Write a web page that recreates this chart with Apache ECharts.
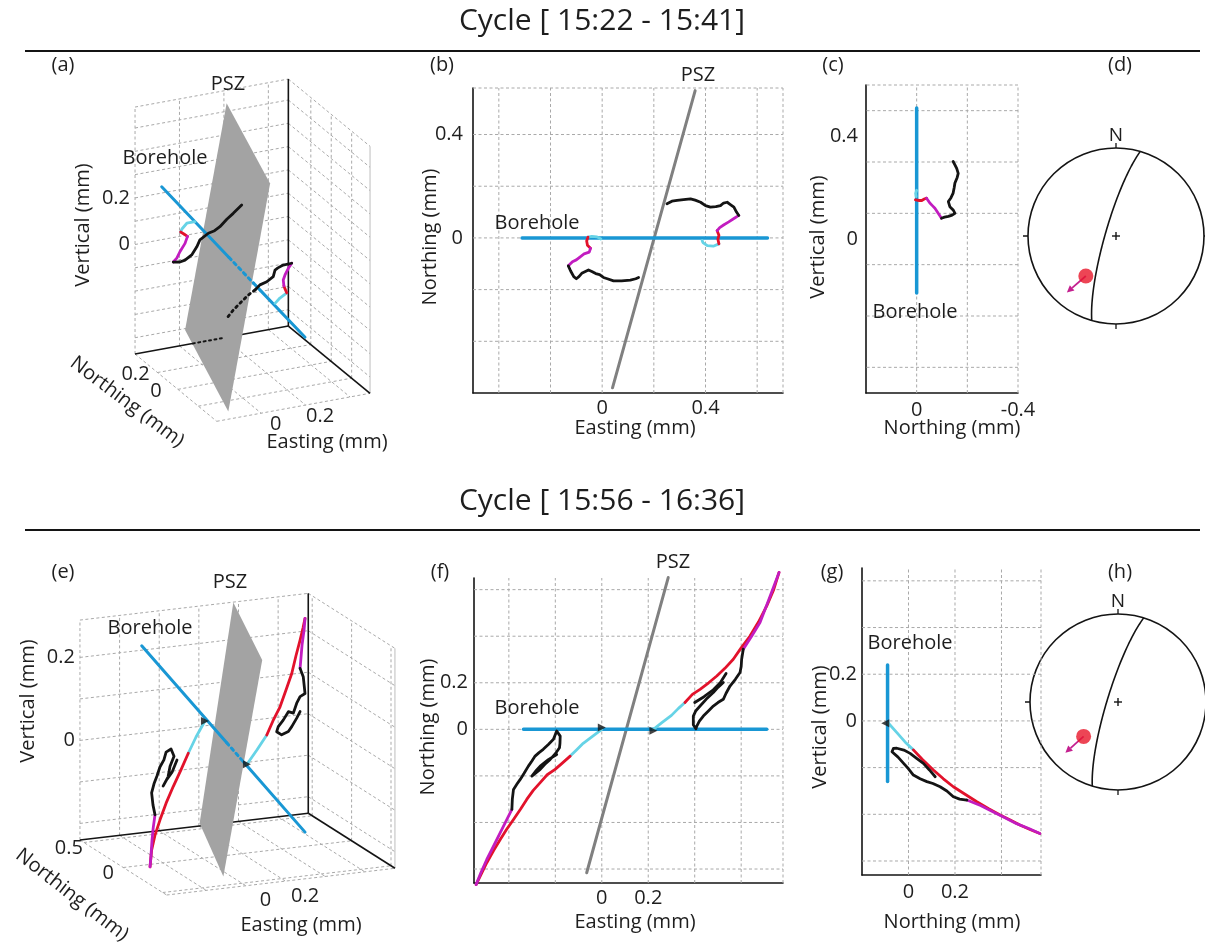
<!DOCTYPE html>
<html>
<head>
<meta charset="utf-8">
<title>Displacement cycles</title>
<script src="https://cdn.jsdelivr.net/npm/echarts@6.0.0/dist/echarts.min.js"></script>
<style>
html, body { margin: 0; padding: 0; background: #ffffff; }
#chart { width: 1205px; height: 943px; }
</style>
</head>
<body>
<div id="chart"></div>
<script>
// ================= data =================
const titles = ['Cycle [ 15:22 - 15:41]', 'Cycle [ 15:56 - 16:36]'];

// ---- (a) 3-D view, cycle 1 : [Easting, Northing, Vertical] in mm ----
const boxA = { E: [-0.4, 0.29], N: [-0.38, 0.42], Z: [-0.47, 0.59] };
const gridA = { E: [-0.2, 0, 0.2], N: [0.2, 0, -0.2], Z: [-0.4, -0.3, -0.2, -0.1, 0, 0.1, 0.2, 0.3, 0.4, 0.5] };
const labelsA = { E: [0, 0.2], N: [0.2, 0], Z: [0, 0.2] };
const aBorehole = [[-0.473, 0, 0.412], [0.172, 0, -0.346]];
const aBoreholeHidden = [-0.17, -0.06];
const aFloorHidden = [-0.14, 0.0];
const aPlane = [[0.049, 0.5, 0.499], [-0.146, -0.35, 0.496], [-0.334, -0.35, -0.45], [-0.138, 0.5, -0.441]];
const aCyan1 = [[-0.323, 0, 0.236], [-0.36, 0, 0.236], [-0.382, 0, 0.215], [-0.388, 0, 0.203]];
const aRed1 = [[-0.388, 0, 0.203], [-0.373, 0, 0.192], [-0.357, 0, 0.179]];
const aMag1 = [[-0.357, 0, 0.179], [-0.368, 0, 0.151], [-0.391, 0, 0.119], [-0.405, 0, 0.094], [-0.421, 0, 0.08]];
const aBlack1 = [[-0.421, 0, 0.08], [-0.391, 0, 0.075], [-0.368, 0, 0.079], [-0.338, 0, 0.096], [-0.315, 0, 0.127], [-0.301, 0, 0.154], [-0.263, 0, 0.176], [-0.235, 0, 0.182], [-0.211, 0, 0.195], [-0.18, 0, 0.222], [-0.151, 0, 0.242], [-0.113, 0, 0.271]];
const aCyan2 = [[0.037, 0, -0.177], [0.059, 0, -0.158], [0.09, 0, -0.141]];
const aRed2 = [[0.09, 0, -0.141], [0.097, 0, -0.134], [0.082, 0, -0.123], [0.077, 0, -0.109]];
const aMag2 = [[0.077, 0, -0.109], [0.074, 0, -0.083], [0.082, 0, -0.063], [0.097, 0, -0.037], [0.112, 0, -0.018]];
const aBlack2 = [[0.112, 0, -0.018], [0.074, 0, -0.019], [0.05, 0, -0.027], [0.037, 0, -0.034], [0.029, 0, -0.061], [0.0, 0, -0.078], [-0.031, 0, -0.086], [-0.053, 0, -0.104]];
const aBlack2Hidden = [[-0.053, 0, -0.104], [-0.083, 0, -0.12], [-0.121, 0, -0.149], [-0.151, 0, -0.173], [-0.18, 0, -0.203]];

// ---- (b) map view, cycle 1 : [Easting, Northing] ----
const bGridE = [-0.4, -0.2, 0, 0.2, 0.4, 0.6, 0.7];
const bGridN = [-0.4, -0.2, 0, 0.2, 0.4, 0.58];
const bLabelsE = [0, 0.4];
const bLabelsN = [0, 0.4];
const bBorehole = [[-0.31, 0], [0.64, 0]];
const bPSZ = [[0.04, -0.58], [0.36, 0.57]];
const bCyanL = [[-0.005, -0.004], [-0.02, 0.004], [-0.04, 0.006], [-0.055, 0.003]];
const bRedL = [[-0.055, 0.003], [-0.06, -0.012], [-0.057, -0.028], [-0.045, -0.04]];
const bMagL = [[-0.045, -0.04], [-0.05, -0.055], [-0.07, -0.062], [-0.085, -0.073], [-0.1, -0.085], [-0.115, -0.092], [-0.131, -0.108]];
const bBlackL = [[-0.131, -0.108], [-0.122, -0.128], [-0.11, -0.15], [-0.1, -0.158], [-0.09, -0.15], [-0.079, -0.137], [-0.065, -0.13], [-0.053, -0.124], [-0.04, -0.13], [-0.025, -0.138], [-0.01, -0.142], [0.005, -0.153], [0.02, -0.158], [0.044, -0.166], [0.075, -0.166], [0.109, -0.163], [0.13, -0.158], [0.141, -0.153]];
const bCyanR = [[0.452, -0.023], [0.43, -0.032], [0.407, -0.03], [0.39, -0.018], [0.387, -0.01]];
const bRedR = [[0.445, 0.028], [0.452, 0.01], [0.448, -0.005], [0.452, -0.023]];
const bMagR = [[0.529, 0.087], [0.51, 0.075], [0.49, 0.062], [0.47, 0.05], [0.455, 0.04], [0.445, 0.028]];
const bBlackR = [[0.251, 0.132], [0.27, 0.142], [0.29, 0.145], [0.315, 0.148], [0.342, 0.151], [0.36, 0.146], [0.381, 0.138], [0.4, 0.125], [0.419, 0.119], [0.44, 0.121], [0.458, 0.125], [0.47, 0.135], [0.484, 0.138], [0.495, 0.13], [0.51, 0.119], [0.52, 0.1], [0.529, 0.087]];

// ---- (c) section view, cycle 1 : [Northing, Vertical] ----
const cGridN = [0, -0.2, -0.4];
const cGridZ = [-0.5, -0.3, -0.1, 0.1, 0.3, 0.5, 0.6];
const cLabelsN = [0, -0.4];
const cLabelsZ = [0, 0.4];
const cBorehole = [[0, 0.51], [0, -0.21]];
const cCyan = [[0, 0.19], [0.004, 0.178], [0.002, 0.165]];
const cRed = [[0.005, 0.152], [-0.01, 0.15], [-0.02, 0.15], [-0.03, 0.156], [-0.039, 0.159]];
const cMag = [[-0.039, 0.159], [-0.052, 0.14], [-0.062, 0.13], [-0.072, 0.12], [-0.085, 0.1], [-0.098, 0.081]];
const cBlack = [[-0.098, 0.081], [-0.11, 0.085], [-0.125, 0.088], [-0.14, 0.093], [-0.151, 0.1], [-0.145, 0.112], [-0.131, 0.126], [-0.125, 0.146], [-0.135, 0.16], [-0.144, 0.179], [-0.148, 0.2], [-0.151, 0.218], [-0.16, 0.24], [-0.164, 0.256], [-0.158, 0.275], [-0.151, 0.289], [-0.144, 0.302]];

// ---- (d) stereonet, cycle 1 ----
const dPlane = { strike: 196, dip: 80 };
const dLineation = { trend: 217, plunge: 42.5 };
const dArrowTip = { trend: 221, plunge: 16 };

// ---- (e) 3-D view, cycle 2 ----
const boxE = { E: [-0.6, 0.552], N: [-0.55, 0.55], Z: [-0.24, 0.29] };
const gridE3 = { E: [-0.4, -0.2, 0, 0.2, 0.4], N: [0.5, 0, -0.5], Z: [-0.2, -0.1, 0, 0.1, 0.2] };
const labelsE3 = { E: [0, 0.2], N: [0.5, 0], Z: [0, 0.2] };
const eBorehole = [[-0.507, 0, 0.289], [0.317, 0, -0.206]];
const eBoreholeHidden = [-0.078, 0.006];
const ePlane = [[0.154, 0.5, 0.296], [-0.058, -0.4, 0.278], [-0.254, -0.4, -0.233], [-0.016, 0.5, -0.226]];
const eCyan1 = [[-0.188, 0, 0.09], [-0.233, 0, 0.054], [-0.272, 0, 0.017]];
const eRed1 = [[-0.272, 0, 0.017], [-0.309, 0, -0.021], [-0.348, 0, -0.059], [-0.384, 0, -0.097], [-0.415, 0, -0.136], [-0.44, 0, -0.171], [-0.457, 0, -0.206], [-0.465, 0, -0.246]];
const eMag1 = [[-0.465, 0, -0.246], [-0.46, 0, -0.218], [-0.455, 0, -0.182], [-0.449, 0, -0.153], [-0.44, 0, -0.122]];
const eBlack1 = [[-0.44, 0, -0.122], [-0.45, 0, -0.098], [-0.457, 0, -0.068], [-0.445, 0, -0.047], [-0.43, 0, -0.029], [-0.415, 0, -0.008], [-0.395, 0, 0.008], [-0.384, 0, 0.026], [-0.359, 0, 0.032], [-0.344, 0, 0.014], [-0.364, 0, -0.009], [-0.374, 0, -0.034], [-0.399, 0, -0.055], [-0.38, 0, -0.04], [-0.354, 0, -0.024], [-0.329, 0, 0.004]];
const eCyan2 = [[0.024, 0, -0.026], [0.075, 0, 0.006], [0.124, 0, 0.039]];
const eRed2 = [[0.124, 0, 0.039], [0.155, 0, 0.071], [0.191, 0, 0.103], [0.221, 0, 0.142], [0.25, 0, 0.18], [0.271, 0, 0.221], [0.292, 0, 0.258], [0.307, 0, 0.287], [0.317, 0, 0.309]];
const eMag2 = [[0.317, 0, 0.309], [0.312, 0, 0.281], [0.302, 0, 0.246], [0.292, 0, 0.19]];
const eBlack2 = [[0.292, 0, 0.19], [0.308, 0, 0.169], [0.317, 0, 0.128], [0.292, 0, 0.122], [0.275, 0, 0.107], [0.258, 0, 0.084], [0.233, 0, 0.089], [0.207, 0, 0.07], [0.182, 0, 0.056], [0.174, 0, 0.044], [0.199, 0, 0.035], [0.233, 0, 0.041], [0.25, 0, 0.052], [0.275, 0, 0.071], [0.292, 0, 0.086]];
const eMarkers = [[-0.188, 0, 0.09], [0.024, 0, -0.026]];

// ---- (f) map view, cycle 2 ----
const fGridE = [-0.4, -0.2, 0, 0.2, 0.4, 0.6, 0.78];
const fGridN = [-0.6, -0.4, -0.2, 0, 0.2, 0.4, 0.6];
const fLabelsE = [0, 0.2];
const fLabelsN = [0, 0.2];
const fBorehole = [[-0.337, 0], [0.71, 0]];
const fPSZ = [[-0.065, -0.616], [0.286, 0.652]];
const fCyanL = [[0, 0], [-0.04, -0.03], [-0.08, -0.06], [-0.11, -0.09], [-0.136, -0.115]];
const fRedL = [[-0.136, -0.115], [-0.17, -0.145], [-0.201, -0.172], [-0.235, -0.195], [-0.265, -0.229], [-0.295, -0.262], [-0.323, -0.301], [-0.35, -0.343], [-0.38, -0.387], [-0.41, -0.43], [-0.437, -0.473], [-0.465, -0.52], [-0.495, -0.573], [-0.541, -0.667]];
const fMagL = [[-0.541, -0.667], [-0.52, -0.615], [-0.495, -0.559], [-0.465, -0.5], [-0.437, -0.444], [-0.41, -0.39], [-0.387, -0.344]];
const fBlackL = [[-0.387, -0.344], [-0.385, -0.3], [-0.38, -0.258], [-0.365, -0.235], [-0.351, -0.215], [-0.335, -0.19], [-0.316, -0.158], [-0.3, -0.135], [-0.287, -0.115], [-0.27, -0.1], [-0.252, -0.086], [-0.23, -0.065], [-0.208, -0.043], [-0.194, -0.007], [-0.179, -0.029], [-0.18, -0.06], [-0.182, -0.079], [-0.2, -0.105], [-0.222, -0.129], [-0.245, -0.15], [-0.265, -0.172], [-0.285, -0.188], [-0.301, -0.201], [-0.285, -0.18], [-0.265, -0.158], [-0.23, -0.13], [-0.194, -0.108]];
const fCyanR = [[0.222, 0], [0.26, 0.03], [0.3, 0.06], [0.33, 0.09], [0.358, 0.115]];
const fRedR = [[0.358, 0.115], [0.39, 0.15], [0.423, 0.172], [0.46, 0.2], [0.495, 0.229], [0.53, 0.262], [0.566, 0.301], [0.6, 0.35], [0.638, 0.401], [0.675, 0.462], [0.71, 0.53], [0.74, 0.6], [0.763, 0.674]];
const fMagR = [[0.763, 0.674], [0.72, 0.56], [0.681, 0.459], [0.645, 0.4], [0.609, 0.344]];
const fBlackR = [[0.609, 0.344], [0.602, 0.301], [0.6, 0.27], [0.595, 0.244], [0.575, 0.215], [0.552, 0.186], [0.535, 0.155], [0.523, 0.129], [0.5, 0.115], [0.48, 0.1], [0.46, 0.08], [0.437, 0.057], [0.42, 0.035], [0.409, 0.014], [0.405, 0.002], [0.394, 0.02], [0.394, 0.057], [0.405, 0.08], [0.423, 0.1], [0.45, 0.13], [0.48, 0.158], [0.5, 0.18], [0.523, 0.201]];
const fBlackR2 = [[0.4, 0.115], [0.44, 0.14], [0.48, 0.17], [0.51, 0.2], [0.535, 0.24]];
const fMarkers = [[0, 0.008], [0.222, -0.006]];

// ---- (g) section view, cycle 2 ----
const gGridN = [0, 0.2, 0.4, 0.57];
const gGridZ = [-0.6, -0.4, -0.2, 0, 0.2, 0.4, 0.6];
const gLabelsN = [0, 0.2];
const gLabelsZ = [0, 0.2];
const gBorehole = [[-0.09, 0.24], [-0.09, -0.26]];
const gMarkers = [[-0.1, -0.01]];
const gCyan = [[-0.086, -0.01], [-0.05, -0.05], [-0.015, -0.09], [0.021, -0.124]];
const gRed = [[0.021, -0.124], [0.06, -0.165], [0.107, -0.21], [0.15, -0.248], [0.193, -0.282], [0.245, -0.315], [0.294, -0.346], [0.345, -0.376], [0.394, -0.403], [0.44, -0.426], [0.479, -0.446], [0.525, -0.466], [0.565, -0.482]];
const gMag = [[0.565, -0.482], [0.52, -0.462], [0.465, -0.44], [0.415, -0.415], [0.365, -0.39], [0.31, -0.362], [0.251, -0.339]];
const gBlack = [[0.251, -0.339], [0.22, -0.335], [0.193, -0.325], [0.165, -0.3], [0.136, -0.282], [0.105, -0.268], [0.079, -0.26], [0.05, -0.248], [0.021, -0.232], [0.0, -0.205], [-0.021, -0.182], [-0.045, -0.155], [-0.071, -0.132], [-0.065, -0.118], [-0.05, -0.117], [-0.02, -0.125], [0.007, -0.139], [0.035, -0.16], [0.064, -0.182], [0.09, -0.21], [0.115, -0.239]];

// ---- (h) stereonet, cycle 2 ----
const hPlane = { strike: 197, dip: 80 };
const hLineation = { trend: 225, plunge: 44 };
const hArrowTip = { trend: 226, plunge: 18 };

// ================= styles =================
const FONT = "'Open Sans', 'Noto Sans', 'DejaVu Sans', sans-serif";
const COL = {
  ink: '#141414', text: '#1e1e1e', grid: '#a9a9a9', blue: '#1997d4', cyan: '#66d3e6',
  red: '#e2122b', magenta: '#c21cc0', plane: '#a3a3a3', psz: '#808080', dot: '#e8172b', arrow: '#c4208f'
};
const gridStyle = { stroke: COL.grid, lineWidth: 1, lineDash: [3, 2.5] };
const CURVE_W = 2.8;
const d2r = Math.PI / 180;

// ================= builders =================
const grid = [], xAxis = [], yAxis = [], series = [], graphic = [];

function addGrid(rect, xa, ya) {
  const i = grid.length;
  grid.push(Object.assign({ containLabel: false }, rect));
  xAxis.push(Object.assign({ gridIndex: i, type: 'value' }, xa));
  yAxis.push(Object.assign({ gridIndex: i, type: 'value' }, ya));
  return i;
}

function axis2D(r, interval, labels, margin, inverse) {
  return {
    min: r[0], max: r[1], interval, inverse: !!inverse,
    axisLine: { show: true, onZero: false, lineStyle: { color: COL.ink, width: 1.6 } },
    axisTick: { show: false }, splitLine: { show: false },
    axisLabel: {
      show: true, margin, fontSize: 20, fontFamily: FONT, color: COL.text,
      showMinLabel: true, showMaxLabel: true,
      formatter: v => { const t = labels.find(t => Math.abs(t - v) < 1e-6); return t === undefined ? '' : String(t); }
    }
  };
}

function segSeries(gi, segs, style, z) {
  return {
    type: 'custom', xAxisIndex: gi, yAxisIndex: gi, coordinateSystem: 'cartesian2d',
    z, silent: true, clip: false, data: segs,
    renderItem(params, api) {
      const a = api.coord([api.value(0), api.value(1)]);
      const b = api.coord([api.value(2), api.value(3)]);
      return { type: 'line', shape: { x1: a[0], y1: a[1], x2: b[0], y2: b[1] }, style: Object.assign({ fill: null }, style) };
    }
  };
}

function polyline(gi, pts, color, width, type, z) {
  return {
    type: 'line', xAxisIndex: gi, yAxisIndex: gi, data: pts, symbol: 'none', showSymbol: false,
    clip: false, silent: true, z: z || 5, emphasis: { disabled: true },
    lineStyle: { color, width, type: type || 'solid', cap: 'round', join: 'round' }
  };
}

function polygonSeries(gi, pts, fill, z) {
  return {
    type: 'custom', xAxisIndex: gi, yAxisIndex: gi, coordinateSystem: 'cartesian2d',
    z, silent: true, clip: false, data: [0],
    renderItem(params, api) {
      return { type: 'polygon', shape: { points: pts.map(p => api.coord(p)) }, style: { fill } };
    }
  };
}

function markers(gi, pts, rotate, z) {
  return {
    type: 'scatter', xAxisIndex: gi, yAxisIndex: gi, data: pts, symbol: 'triangle',
    symbolSize: 8, symbolRotate: rotate, itemStyle: { color: COL.ink }, silent: true, z: z || 7
  };
}

function txt(x, y, s, o) {
  o = o || {};
  graphic.push({
    type: 'text', x, y, rotation: o.rot || 0, z: 100, silent: true,
    style: {
      text: s, font: (o.size || 20) + 'px ' + FONT, fill: o.color || COL.text,
      textAlign: o.align || 'center', textVerticalAlign: 'middle',
      align: o.align || 'center', verticalAlign: 'middle'
    }
  });
}

// ---------- page furniture ----------
txt(602, 21, titles[0], { size: 30 });
txt(602, 501, titles[1], { size: 30 });
graphic.push({ type: 'line', shape: { x1: 25, y1: 51, x2: 1200, y2: 51 }, style: { stroke: COL.ink, lineWidth: 2 }, z: 100 });
graphic.push({ type: 'line', shape: { x1: 25, y1: 530, x2: 1200, y2: 530 }, style: { stroke: COL.ink, lineWidth: 2 }, z: 100 });

// ---------- screen-space grid used by the oblique 3-D views ----------
const SG = addGrid({ left: 0, top: 0, width: 1205, height: 943 },
  { min: 0, max: 1205, show: false }, { min: 0, max: 943, inverse: true, show: false });

function proj(cam, p) {
  return [cam.o[0] + p[0] * cam.e[0] + p[1] * cam.n[0] + p[2] * cam.z[0],
          cam.o[1] + p[0] * cam.e[1] + p[1] * cam.n[1] + p[2] * cam.z[1]];
}

function along(line, E) {
  const t = (E - line[0][0]) / (line[1][0] - line[0][0]);
  return line[0].map((v, i) => v + t * (line[1][i] - v));
}

function view3D(cam, box, ticks, labels, lab, d) {
  const P = p => proj(cam, p);
  const [E0, E1] = box.E, [N0, N1] = box.N, [Z0, Z1] = box.Z;
  const segs = [];
  const add = (a, b) => segs.push(P(a).concat(P(b)));
  // back wall (Northing = max)
  ticks.E.forEach(E => add([E, N1, Z0], [E, N1, Z1]));
  ticks.Z.forEach(Z => add([E0, N1, Z], [E1, N1, Z]));
  add([E0, N1, Z0], [E0, N1, Z1]); add([E0, N1, Z1], [E1, N1, Z1]);
  // side wall (Easting = max)
  ticks.N.forEach(N => add([E1, N, Z0], [E1, N, Z1]));
  ticks.Z.forEach(Z => add([E1, N1, Z], [E1, N0, Z]));
  add([E1, N1, Z1], [E1, N0, Z1]);
  // floor
  ticks.E.forEach(E => add([E, N1, Z0], [E, N0, Z0]));
  ticks.N.forEach(N => add([E0, N, Z0], [E1, N, Z0]));
  add([E0, N1, Z0], [E0, N0, Z0]); add([E0, N0, Z0], [E1, N0, Z0]);
  series.push(segSeries(SG, segs, gridStyle, 1));
  series.push(segSeries(SG, [P([E1, N0, Z0]).concat(P([E1, N0, Z1]))], { stroke: '#bdbdbd', lineWidth: 1 }, 1));
  // axis lines meeting at the back corner
  series.push(segSeries(SG, [
    P([E1, N1, Z0]).concat(P([E1, N1, Z1])),
    P([E0, N1, Z0]).concat(P([E1, N1, Z0])),
    P([E1, N1, Z0]).concat(P([E1, N0, Z0]))
  ], { stroke: COL.ink, lineWidth: 1.6 }, 2));
  // PSZ plane
  series.push(polygonSeries(SG, d.plane.map(P), COL.plane, 3));
  if (d.floorHidden) {
    series.push(polyline(SG, [P([d.floorHidden[0], N1, Z0]), P([d.floorHidden[1], N1, Z0])], COL.ink, 2, [2, 3.5], 4));
  }
  // borehole, dotted where it runs behind the plane
  const h0 = along(d.borehole, d.hidden[0]), h1 = along(d.borehole, d.hidden[1]);
  series.push(polyline(SG, [P(d.borehole[0]), P(h0)], COL.blue, 3, 'solid', 5));
  series.push(polyline(SG, [P(h0), P(h1)], COL.blue, 3, [3, 4], 5));
  series.push(polyline(SG, [P(h1), P(d.borehole[1])], COL.blue, 3, 'solid', 5));
  // displacement paths
  d.curves.forEach(c => series.push(polyline(SG, c[0].map(P), c[1], CURVE_W, c[2] || 'solid', 6)));
  if (d.markers) series.push(markers(SG, d.markers.map(P), -90, 7));
  // tick labels
  labels.Z.forEach(Z => { const p = P([E0, N1, Z]); txt(p[0] + lab.z[0], p[1] + lab.z[1], String(Z), { align: 'right' }); });
  labels.E.forEach(E => { const p = P([E, N0, Z0]); txt(p[0] + lab.e[0], p[1] + lab.e[1], String(E)); });
  labels.N.forEach(N => { const p = P([E0, N, Z0]); txt(p[0] + lab.n[0], p[1] + lab.n[1], String(N)); });
}

// ---------- (a) ----------
view3D({ o: [266.8, 263.6], e: [222.2, -40.6], n: [-102.1, -84.1], z: [0, -233] }, boxA, gridA, labelsA,
  { z: [-5, 0], e: [-30, 19], n: [-22, 2] },
  {
    plane: aPlane, borehole: aBorehole, hidden: aBoreholeHidden, floorHidden: aFloorHidden,
    curves: [[aCyan1, COL.cyan], [aRed1, COL.red], [aMag1, COL.magenta], [aBlack1, COL.ink],
             [aCyan2, COL.cyan], [aRed2, COL.red], [aMag2, COL.magenta], [aBlack2, COL.ink],
             [aBlack2Hidden, COL.ink, [2, 4]]]
  });
txt(63, 65, '(a)');
txt(228, 84, 'PSZ');
txt(165, 158, 'Borehole');
txt(83, 225, 'Vertical (mm)', { rot: Math.PI / 2 });
txt(127, 402, 'Northing (mm)', { rot: -37 * d2r });
txt(327, 442, 'Easting (mm)');

// ---------- (e) ----------
view3D({ o: [242.2, 754], e: [198.2, -23.2], n: [-78.8, -50], z: [0, -415] }, boxE, gridE3, labelsE3,
  { z: [-5, 0], e: [-20, 19.5], n: [-15, 6] },
  {
    plane: ePlane, borehole: eBorehole, hidden: eBoreholeHidden, markers: eMarkers,
    curves: [[eCyan1, COL.cyan], [eRed1, COL.red], [eMag1, COL.magenta], [eBlack1, COL.ink],
             [eCyan2, COL.cyan], [eRed2, COL.red], [eMag2, COL.magenta], [eBlack2, COL.ink]]
  });
txt(63, 572, '(e)');
txt(230, 582, 'PSZ');
txt(150, 628, 'Borehole');
txt(28, 701, 'Vertical (mm)', { rot: Math.PI / 2 });
txt(72, 895, 'Northing (mm)', { rot: -38 * d2r });
txt(301, 925, 'Easting (mm)');

// ---------- 2-D panels ----------
function panel2D(rect, xr, yr, xInt, yInt, xLabels, yLabels, xGrid, yGrid, inverseX, xMargin, yMargin) {
  const gi = addGrid(rect, axis2D(xr, xInt, xLabels, xMargin, inverseX), axis2D(yr, yInt, yLabels, yMargin, false));
  const segs = xGrid.map(x => [x, yr[0], x, yr[1]]).concat(yGrid.map(y => [xr[0], y, xr[1], y]));
  series.push(segSeries(gi, segs, gridStyle, 1));
  return gi;
}

// (b)
const gb = panel2D({ left: 473, top: 88, width: 310, height: 305 }, [-0.5, 0.7], [-0.6, 0.58], 0.1, 0.1,
  bLabelsE, bLabelsN, bGridE, bGridN, false, 5, 10);
series.push(polyline(gb, bPSZ, COL.psz, 3, 'solid', 3));
series.push(polyline(gb, bBorehole, COL.blue, 3.5, 'solid', 4));
[[bCyanL, COL.cyan], [bRedL, COL.red], [bMagL, COL.magenta], [bBlackL, COL.ink],
 [bCyanR, COL.cyan], [bRedR, COL.red], [bMagR, COL.magenta], [bBlackR, COL.ink]]
  .forEach(c => series.push(polyline(gb, c[0], c[1], CURVE_W, 'solid', 6)));
txt(442, 65, '(b)');
txt(698, 75, 'PSZ');
txt(537, 223, 'Borehole');
txt(430, 237, 'Northing (mm)', { rot: Math.PI / 2 });
txt(635, 428, 'Easting (mm)');

// (c)
const gc = panel2D({ left: 866, top: 85, width: 152, height: 308 }, [-0.4, 0.2], [-0.6, 0.6], 0.1, 0.1,
  cLabelsN, cLabelsZ, cGridN, cGridZ, true, 7, 8);
series.push(polyline(gc, cBorehole, COL.blue, 3.5, 'solid', 4));
[[cCyan, COL.cyan], [cRed, COL.red], [cMag, COL.magenta], [cBlack, COL.ink]]
  .forEach(c => series.push(polyline(gc, c[0], c[1], CURVE_W, 'solid', 6)));
txt(833, 65, '(c)');
txt(915, 312, 'Borehole');
txt(818, 237, 'Vertical (mm)', { rot: Math.PI / 2 });
txt(952, 428, 'Northing (mm)');

// (f)
const gf = panel2D({ left: 474, top: 578, width: 309, height: 305 }, [-0.55, 0.78], [-0.66, 0.65], 0.05, 0.02,
  fLabelsE, fLabelsN, fGridE, fGridN, false, 5, 6);
series.push(polyline(gf, fPSZ, COL.psz, 3, 'solid', 3));
series.push(polyline(gf, fBorehole, COL.blue, 3.5, 'solid', 4));
[[fCyanL, COL.cyan], [fRedL, COL.red], [fMagL, COL.magenta], [fBlackL, COL.ink],
 [fCyanR, COL.cyan], [fRedR, COL.red], [fMagR, COL.magenta], [fBlackR, COL.ink], [fBlackR2, COL.ink]]
  .forEach(c => series.push(polyline(gf, c[0], c[1], CURVE_W, 'solid', 6)));
series.push(markers(gf, fMarkers, -90, 7));
txt(440, 572, '(f)');
txt(673, 562, 'PSZ');
txt(537, 708, 'Borehole');
txt(428, 727, 'Northing (mm)', { rot: Math.PI / 2 });
txt(635, 922, 'Easting (mm)');

// (g)
const gg = panel2D({ left: 862, top: 568, width: 179, height: 307 }, [-0.2, 0.57], [-0.66, 0.655], 0.01, 0.02,
  gLabelsN, gLabelsZ, gGridN, gGridZ, false, 7, 5);
series.push(polyline(gg, gBorehole, COL.blue, 3.5, 'solid', 4));
[[gCyan, COL.cyan], [gRed, COL.red], [gMag, COL.magenta], [gBlack, COL.ink]]
  .forEach(c => series.push(polyline(gg, c[0], c[1], CURVE_W, 'solid', 6)));
series.push(markers(gg, gMarkers, 90, 7));
txt(832, 572, '(g)');
txt(910, 643, 'Borehole');
txt(820, 727, 'Vertical (mm)', { rot: Math.PI / 2 });
txt(952, 922, 'Northing (mm)');

// ---------- stereonets (lower hemisphere, equal area) ----------
const eqArea = pl => Math.SQRT2 * Math.sin((90 - pl) / 2 * d2r);

function greatCircle(pl) {
  const dd = pl.strike + 90;
  const s = [Math.sin(pl.strike * d2r), Math.cos(pl.strike * d2r), 0];
  const dv = [Math.sin(dd * d2r) * Math.cos(pl.dip * d2r), Math.cos(dd * d2r) * Math.cos(pl.dip * d2r), -Math.sin(pl.dip * d2r)];
  const pts = [];
  for (let t = 0; t <= 180; t += 2) {
    const c = Math.cos(t * d2r), sn = Math.sin(t * d2r);
    const v = [c * s[0] + sn * dv[0], c * s[1] + sn * dv[1], c * s[2] + sn * dv[2]];
    const plunge = Math.asin(Math.max(-1, Math.min(1, -v[2]))) / d2r;
    let trend = Math.atan2(v[0], v[1]) / d2r; if (trend < 0) trend += 360;
    pts.push([eqArea(plunge), trend]);
  }
  return pts;
}

const polar = [{ center: [1116, 236], radius: 88 }, { center: [1118, 702], radius: 88 }];
const angleAxis = polar.map((p, i) => ({
  polarIndex: i, type: 'value', min: 0, max: 360, interval: 90, startAngle: 90, clockwise: true,
  axisLine: { show: true, lineStyle: { color: COL.ink, width: 1.6 } },
  axisTick: { show: true, length: 5, lineStyle: { color: COL.ink, width: 1.3 } },
  axisLabel: { show: true, margin: 3, fontSize: 19, fontFamily: FONT, color: COL.text, formatter: v => (v === 0 ? 'N' : '') },
  splitLine: { show: false }
}));
const radiusAxis = polar.map((p, i) => ({
  polarIndex: i, type: 'value', min: 0, max: 1,
  axisLine: { show: false }, axisTick: { show: false }, axisLabel: { show: false }, splitLine: { show: false }
}));

function stereonet(i, plane, lin, tip) {
  series.push({
    type: 'line', coordinateSystem: 'polar', polarIndex: i, data: greatCircle(plane),
    symbol: 'none', showSymbol: false, silent: true, z: 4, lineStyle: { color: COL.ink, width: 1.6 }
  });
  series.push({
    type: 'custom', coordinateSystem: 'polar', polarIndex: i, data: [[0, 0]], silent: true, z: 4,
    renderItem(params, api) {
      const c = api.coord([0, 0]);
      return { type: 'group', children: [
        { type: 'line', shape: { x1: c[0] - 4, y1: c[1], x2: c[0] + 4, y2: c[1] }, style: { stroke: COL.ink, lineWidth: 1.4 } },
        { type: 'line', shape: { x1: c[0], y1: c[1] - 4, x2: c[0], y2: c[1] + 4 }, style: { stroke: COL.ink, lineWidth: 1.4 } }
      ] };
    }
  });
  series.push({
    type: 'custom', coordinateSystem: 'polar', polarIndex: i, silent: true, z: 5,
    data: [[eqArea(lin.plunge), lin.trend, eqArea(tip.plunge), tip.trend]],
    renderItem(params, api) {
      const a = api.coord([api.value(0), api.value(1)]);
      const b = api.coord([api.value(2), api.value(3)]);
      const dx = b[0] - a[0], dy = b[1] - a[1], L = Math.hypot(dx, dy), ux = dx / L, uy = dy / L;
      const hl = 7, hw = 3.5, bx = b[0] - ux * hl, by = b[1] - uy * hl;
      return { type: 'group', children: [
        { type: 'line', shape: { x1: a[0], y1: a[1], x2: bx, y2: by }, style: { stroke: COL.arrow, lineWidth: 1.8 } },
        { type: 'polygon', shape: { points: [b, [bx - uy * hw, by + ux * hw], [bx + uy * hw, by - ux * hw]] }, style: { fill: COL.arrow } }
      ] };
    }
  });
  series.push({
    type: 'scatter', coordinateSystem: 'polar', polarIndex: i, data: [[eqArea(lin.plunge), lin.trend]],
    symbol: 'circle', symbolSize: 15, itemStyle: { color: COL.dot }, silent: true, z: 6
  });
}
stereonet(0, dPlane, dLineation, dArrowTip);
stereonet(1, hPlane, hLineation, hArrowTip);
txt(1120, 65, '(d)');
txt(1120, 572, '(h)');

// ================= render =================
const chart = echarts.init(document.getElementById('chart'), null, { renderer: 'canvas', width: 1205, height: 943 });
chart.setOption({
  animation: false,
  backgroundColor: '#ffffff',
  grid, xAxis, yAxis, polar, angleAxis, radiusAxis, series, graphic
});
</script>
</body>
</html>
